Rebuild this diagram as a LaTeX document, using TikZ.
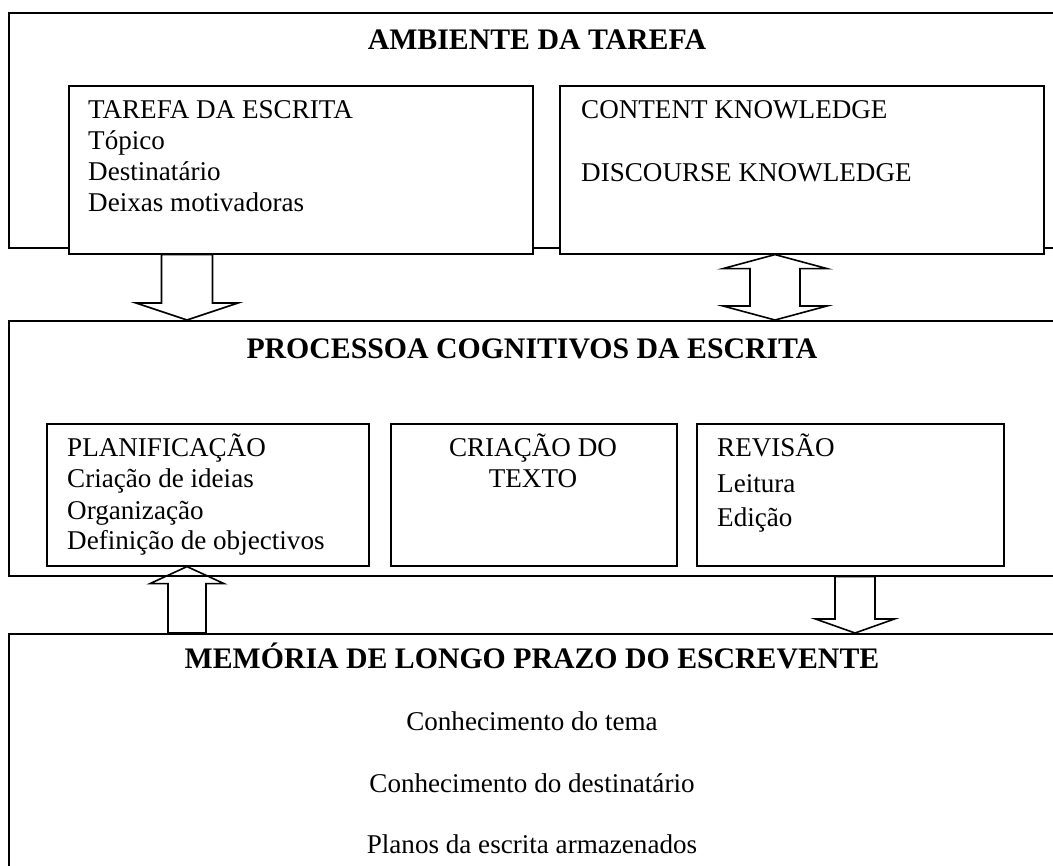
\documentclass[tikz,border=0pt]{standalone}
\usepackage{fontspec}
\setmainfont{Liberation Serif}
\usetikzlibrary{calc}

\tikzset{
  box/.style={draw, line width=1.6pt, fill=white, inner sep=0pt, anchor=north west},
  txt/.style={font=\fontsize{27.1}{31}\selectfont, anchor=base west, inner sep=0pt},
  ctxt/.style={font=\fontsize{27.1}{31}\selectfont, anchor=base, inner sep=0pt},
  ttl/.style={font=\fontsize{29.8}{34}\selectfont\bfseries, anchor=base, inner sep=0pt},
  blk/.style={draw, line width=1.6pt, line join=miter},
}

% block arrow: from, to, shaft half width, head half width, head length
\newcommand{\fatarrow}[5]{%
  \coordinate (fa-b) at ($(#2)!#5!(#1)$);
  \draw[blk] ($(#1)!#3!90:(#2)$) -- ($(fa-b)!#3!90:(#2)$) -- ($(fa-b)!#4!90:(#2)$)
    -- (#2) -- ($(fa-b)!#4!-90:(#2)$) -- ($(fa-b)!#3!-90:(#2)$) -- ($(#1)!#3!-90:(#2)$) -- cycle;
}
% block arrow with two heads
\newcommand{\fatdblarrow}[5]{%
  \coordinate (fa-a) at ($(#1)!#5!(#2)$);
  \coordinate (fa-b) at ($(#2)!#5!(#1)$);
  \draw[blk] (#1) -- ($(fa-a)!#4!90:(#2)$) -- ($(fa-a)!#3!90:(#2)$) -- ($(fa-b)!#3!90:(#2)$)
    -- ($(fa-b)!#4!90:(#2)$) -- (#2) -- ($(fa-b)!#4!-90:(#2)$) -- ($(fa-b)!#3!-90:(#2)$)
    -- ($(fa-a)!#3!-90:(#2)$) -- ($(fa-a)!#4!-90:(#2)$) -- cycle;
}

\begin{document}
\begin{tikzpicture}[x=1pt,y=-1pt]
  \clip (0,0) rectangle (1053,866);

  % ambiente da tarefa
  \node[box, minimum width=1100pt, minimum height=235pt] (amb) at (8,12) {};
  \node[ttl] (ambt) at (537,50) {AMBIENTE DA TAREFA};
  \node[box, minimum width=464pt, minimum height=168pt] (tarefa) at (68,85) {};
  \node[box, minimum width=484pt, minimum height=168pt] (know) at (559,85) {};
  \node[txt] (tar1) at (88,119) {TAREFA DA ESCRITA};
  \node[txt] (tar2) at (88,150) {Tópico};
  \node[txt] (tar3) at (88,181) {Destinatário};
  \node[txt] (tar4) at (88,212) {Deixas motivadoras};
  \node[txt] (know1) at (581,119) {CONTENT KNOWLEDGE};
  \node[txt] (know2) at (581,182) {DISCOURSE KNOWLEDGE};

  % processos cognitivos
  \node[box, minimum width=1100pt, minimum height=255pt] (proc) at (8,320) {};
  \node[ttl] (proct) at (532,359) {PROCESSOA COGNITIVOS DA ESCRITA};
  \node[box, minimum width=322pt, minimum height=142pt] (plan) at (46,423) {};
  \node[box, minimum width=286pt, minimum height=142pt] (criac) at (390,423) {};
  \node[box, minimum width=307pt, minimum height=142pt] (rev) at (696,423) {};
  \node[txt] (plan1) at (67,457) {PLANIFICAÇÃO};
  \node[txt] (plan2) at (67,488) {Criação de ideias};
  \node[txt] (plan3) at (67,519) {Organização};
  \node[txt] (plan4) at (67,550) {Definição de objectivos};
  \node[ctxt] (criac1) at (533,457) {CRIAÇÃO DO};
  \node[ctxt] (criac2) at (533,488) {TEXTO};
  \node[txt] (rev1) at (717,457) {REVISÃO};
  \node[txt] (rev2) at (717,493) {Leitura};
  \node[txt] (rev3) at (717,527) {Edição};

  % memoria de longo prazo
  \node[box, minimum width=1100pt, minimum height=300pt] (mem) at (8,633) {};
  \node[ttl] (memt) at (532,668) {MEMÓRIA DE LONGO PRAZO DO ESCREVENTE};
  \node[ctxt] (mem1) at (532,730) {Conhecimento do tema};
  \node[ctxt] (mem2) at (532,792) {Conhecimento do destinatário};
  \node[ctxt] (mem3) at (532,853) {Planos da escrita armazenados};

  % arrows
  \coordinate (lx) at (187,0);
  \coordinate (kx) at (775,0);
  \coordinate (rx) at (855,0);
  \fatarrow{tarefa.south -| lx}{proc.north -| lx}{25.5pt}{51pt}{17pt}
  \fatdblarrow{know.south -| kx}{proc.north -| kx}{25pt}{52pt}{14pt}
  \fatarrow{mem.north -| lx}{plan.south -| lx}{19pt}{37pt}{17pt}
  \fatarrow{proc.south -| rx}{mem.north -| rx}{20pt}{39.5pt}{14pt}
\end{tikzpicture}
\end{document}
